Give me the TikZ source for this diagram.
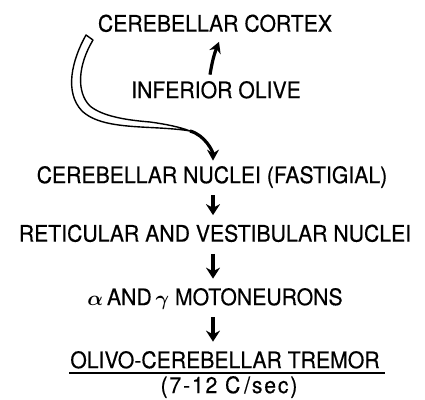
\documentclass[tikz,border=0pt]{standalone}
\usepackage{amsmath}
\usepackage{fontspec}
\setmainfont{TeX Gyre Heros}[FakeStretch=0.93, FakeBold=0.4]
\usetikzlibrary{arrows.meta}
\newcommand{\stagefont}{\fontsize{22.8pt}{26pt}\selectfont}

\begin{document}
\begin{tikzpicture}[x=1pt, y=-1pt,
        stage/.style={inner sep=0pt, text height=16.3pt, text depth=0pt, font=\stagefont},
        stepdown/.style={line width=3.4pt, -{Stealth[length=11pt, width=14pt]}, shorten <=12pt, shorten >=10pt},
        tube/.style={draw, fill=white, line width=1.4pt, line join=round}]
        \useasboundingbox (0,0) rectangle (425,399);
        % Stages
        \node[stage] (cortex) at (215,23.5) {CEREBELLAR CORTEX};
        \node[stage] (olive) at (216,90) {INFERIOR OLIVE};
        \node[stage] (nuclei) at (212,175) {CEREBELLAR NUCLEI (FASTIGIAL)};
        \node[stage] (reticular) at (215,233.5) {RETICULAR AND VESTIBULAR NUCLEI};
        \node[stage] (moto) at (215,297) {$\boldsymbol{\alpha}$\,AND\,$\boldsymbol{\gamma}$\ MOTONEURONS};
        \node[stage] (tremor) at (225,360) {OLIVO-CEREBELLAR TREMOR};
        \node[stage] (rate) at (229,385) {\addfontfeature{LetterSpace=8}(7-12 C\,/sec)};
        \coordinate (spine) at (213,0);
        % Olive up to cortex
        \draw[line width=3.2pt, -{Stealth[length=11pt, width=12pt]}] ([xshift=-6pt, yshift=7pt]olive.north) to[bend left=6] ([xshift=4pt, yshift=-10pt]cortex.south);
        % Hollow pathway from cortex to nuclei
        \draw[tube] (86,35) .. controls (72,60) and (64,92) .. (82,111)
            .. controls (96,124) and (120,126) .. (150,127.5)
            .. controls (170,128.5) and (182,129.5) .. (190,131)
            .. controls (180,127) and (165,124) .. (150,122)
            .. controls (125,120) and (102,116) .. (90,106)
            .. controls (76,92) and (78,65) .. (93,40) -- cycle;
        \coordinate (tubeend) at (190,131);
        \draw[line width=3.2pt, -{Stealth[length=11pt, width=12pt]}, shorten >=6pt] (tubeend) .. controls +(15,4) and +(0,-15) .. ([xshift=1pt]nuclei.north);
        % Chain down
        \draw[stepdown] (nuclei.south -| spine) -- (reticular.north -| spine);
        \draw[stepdown] (reticular.south -| spine) -- (moto.north -| spine);
        \draw[stepdown] (moto.south -| spine) -- (tremor.north -| spine);
        % Underline
        \draw[line width=1.5pt] ([xshift=-1pt, yshift=-4.5pt]tremor.south west) -- ([xshift=5pt, yshift=-4.5pt]tremor.south east);
    \end{tikzpicture}
\end{document}
